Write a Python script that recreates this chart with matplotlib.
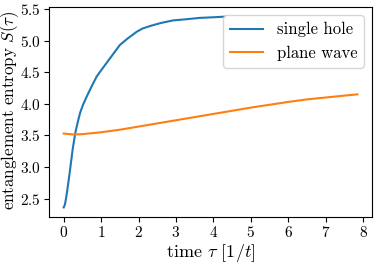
import matplotlib
matplotlib.use("Agg")
import matplotlib.pyplot as plt

plt.rcParams["font.family"] = "serif"
plt.rcParams["font.serif"] = ["cmr10"]
plt.rcParams["mathtext.fontset"] = "cm"
plt.rcParams["axes.formatter.use_mathtext"] = True

# single hole
t_hole = [0.0, 0.03, 0.06, 0.1, 0.14, 0.18, 0.24, 0.31, 0.38, 0.44, 0.52, 0.62, 0.75,
          0.88, 1.0, 1.15, 1.3, 1.5, 1.7, 1.95, 2.1, 2.3, 2.6, 2.92, 3.3, 3.63, 4.0, 4.3]
s_hole = [2.36, 2.4, 2.49, 2.65, 2.82, 3.0, 3.28, 3.54, 3.72, 3.86, 3.99, 4.12, 4.28,
          4.43, 4.53, 4.65, 4.77, 4.93, 5.03, 5.14, 5.19, 5.23, 5.28, 5.32, 5.34, 5.36, 5.37, 5.38]

# plane wave
t_wave = [0.0, 0.25, 0.5, 1.0, 1.5, 2.0, 2.5, 3.0, 3.5, 4.0, 4.5, 5.0, 5.5, 6.0,
          6.5, 7.0, 7.5, 7.85]
s_wave = [3.53, 3.515, 3.52, 3.55, 3.59, 3.64, 3.69, 3.74, 3.79, 3.84, 3.89, 3.94,
          3.985, 4.03, 4.07, 4.1, 4.13, 4.15]

fig, ax = plt.subplots(figsize=(3.74, 2.63), dpi=100)
fig.subplots_adjust(left=0.131, right=0.995, top=0.973, bottom=0.175)

ax.plot(t_hole, s_hole, color="#1f77b4", label="single hole")
ax.plot(t_wave, s_wave, color="#ff7f0e", label="plane wave")

ax.set_xticks(range(0, 9))
ax.set_yticks([2.5, 3.0, 3.5, 4.0, 4.5, 5.0, 5.5])
ax.tick_params(labelsize=11, pad=2.5)
ax.set_xlabel(r"time $\tau$ $[1/t]$", fontsize=13, labelpad=1)
ax.set_ylabel(r"entanglement entropy $S(\tau)$", fontsize=12.2)
ax.yaxis.set_label_coords(-0.086, 0.505)
ax.legend(loc="upper right", fontsize=12)

fig.savefig("out.png", dpi=100)
